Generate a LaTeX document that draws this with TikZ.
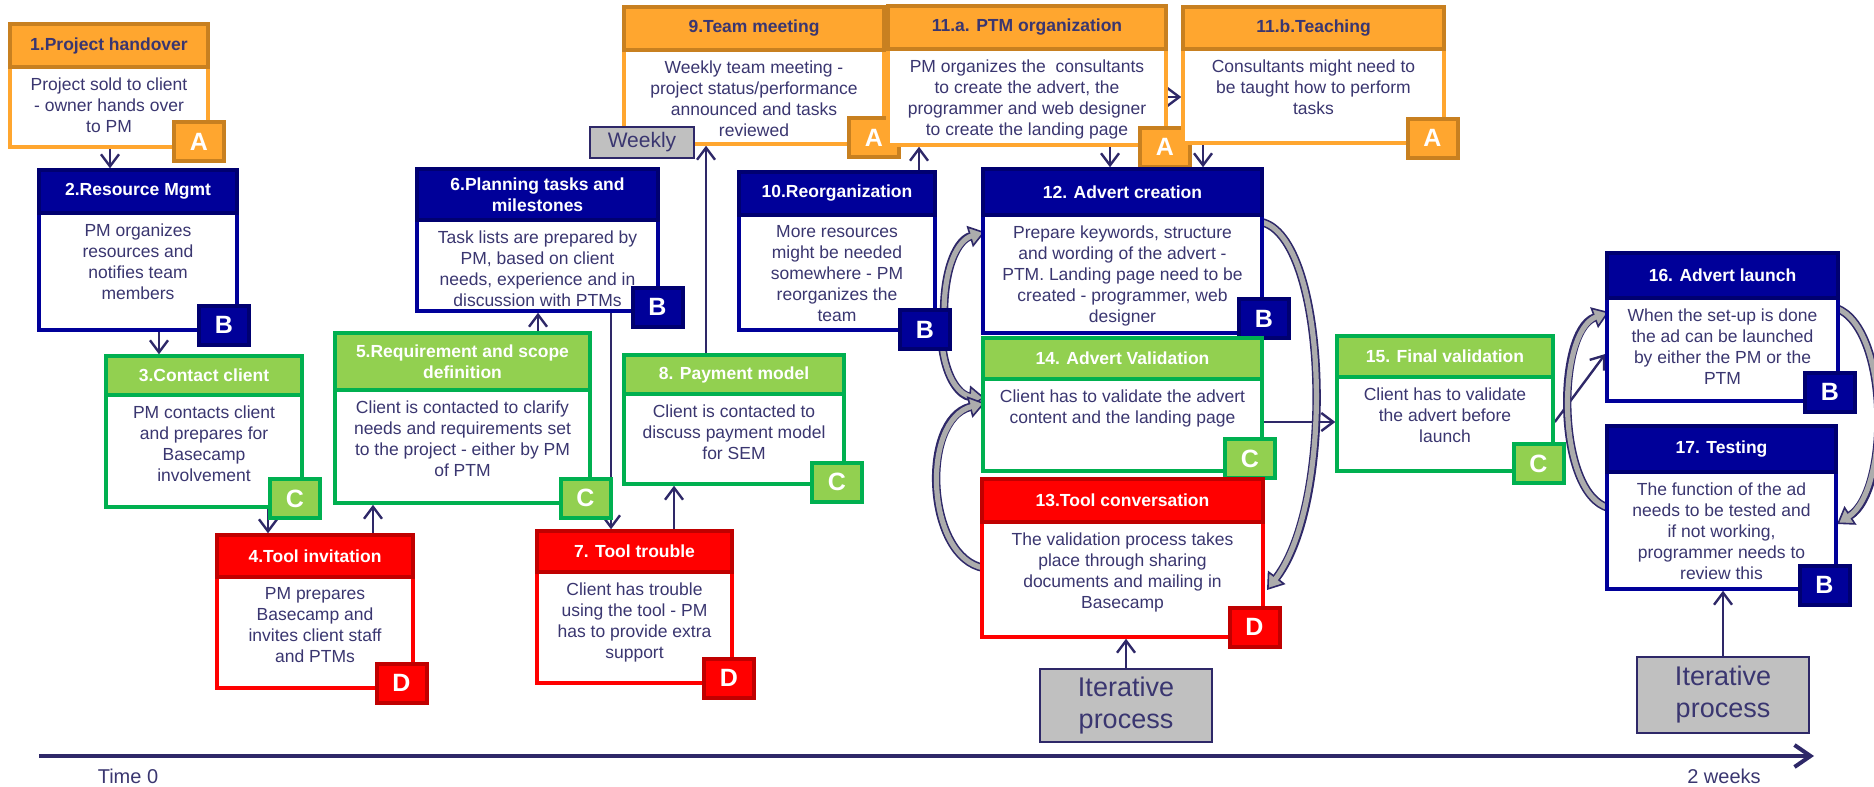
\documentclass[tikz,border=0pt]{standalone}
\usepackage{fontspec}
\setmainfont{Liberation Sans}
\usetikzlibrary{arrows.meta,calc,fit}
\pgfdeclarelayer{wires}
\pgfsetlayers{wires,main}

% palette
\definecolor{orfill}{RGB}{255,166,47}
\definecolor{ordark}{RGB}{200,128,32}
\definecolor{blfill}{RGB}{0,0,153}
\definecolor{bldark}{RGB}{0,0,112}
\definecolor{grfill}{RGB}{146,208,80}
\definecolor{grdark}{RGB}{0,176,80}
\definecolor{rdfill}{RGB}{255,0,0}
\definecolor{rddark}{RGB}{192,0,0}
\definecolor{ink}{RGB}{58,54,112}
\definecolor{wire}{RGB}{46,40,104}
\definecolor{boxgray}{RGB}{192,192,192}
\definecolor{bandgray}{RGB}{172,172,172}

\tikzset{
  bodytext/.style={align=center, inner sep=0pt, text=ink,
    font=\fontsize{8.75}{10.5}\selectfont},
  titletext/.style={align=center, inner sep=0pt,
    font=\fontsize{8.75}{10.5}\selectfont\bfseries},
  badgebase/.style={minimum width=25pt, minimum height=19.5pt, inner sep=0pt,
    line width=2pt, text=white, font=\fontsize{12.5}{14}\selectfont\bfseries},
  % orange group (A)
  orbody/.style={draw=orfill, fill=white, line width=1.75pt},
  orhead/.style={draw=ordark, fill=orfill, line width=2pt},
  ortitle/.style={titletext, text=ink},
  orbadge/.style={badgebase, draw=ordark, fill=orfill},
  % blue group (B)
  blbody/.style={draw=blfill, fill=white, line width=1.75pt},
  blhead/.style={draw=bldark, fill=blfill, line width=2pt},
  bltitle/.style={titletext, text=white},
  blbadge/.style={badgebase, draw=bldark, fill=blfill},
  % green group (C)
  grbody/.style={draw=grdark, fill=white, line width=1.75pt},
  grhead/.style={draw=grdark, fill=grfill, line width=2pt},
  grtitle/.style={titletext, text=white},
  grbadge/.style={badgebase, draw=grdark, fill=grfill},
  % red group (D)
  rdbody/.style={draw=rdfill, fill=white, line width=1.75pt},
  rdhead/.style={draw=rddark, fill=rdfill, line width=2pt},
  rdtitle/.style={titletext, text=white},
  rdbadge/.style={badgebase, draw=rddark, fill=rdfill},
  % notes and connectors
  graynote/.style={draw=wire, fill=boxgray, line width=1.4pt, inner sep=0pt,
    align=center, text=ink},
  conn/.style={draw=wire, line width=1.2pt, -{Straight Barb[length=6pt,width=9pt]}},
  timeline/.style={draw=wire, line width=2pt, -{Straight Barb[length=8pt,width=11pt]}},
  bandedge/.style={draw=wire, line width=4.2pt,
    -{Triangle[length=8pt,width=11pt,fill=bandgray,line width=0.8pt]}},
  bandcore/.style={draw=bandgray, line width=2.6pt, shorten >=6.8pt},
  axislabel/.style={inner sep=0pt, text=ink, font=\fontsize{10}{11}\selectfont},
}

% a stage box: name, group, left, top, right, header bottom, bottom, title, text
\newcommand\stage[9]{%
  \node[fit={(#3,#4)(#5,#7)}, inner sep=0pt, #2body] (#1) {};
  \node[fit={(#3,#4)(#5,#6)}, inner sep=0pt, #2head] (#1h) {};
  \node[#2title] (#1t) at (#1h.center) {#8};
  \node[bodytext, anchor=north] (#1b) at ($(#1h.south)+(0,8)$) {#9};
}
% a group letter: name, group, x, y, letter
\newcommand\badge[5]{\node[#2badge] (#1) at (#3,#4) {#5};}
% a curved grey block arrow
\newcommand\loopband[1]{%
  \draw[bandedge] #1;
  \draw[bandcore] #1;
}

\begin{document}
\begin{tikzpicture}[x=0.5pt,y=-0.5pt]
\useasboundingbox (0,0) rectangle (1874,787);

% ---- stages ----
\stage{s1}{or}{10}{24}{208}{67}{147}{1.Project handover}
  {Project sold to client\\- owner hands over\\to PM}
\badge{k1}{or}{199}{141.5}{A}

\stage{s2}{bl}{39}{170}{237}{213}{330}{2.Resource Mgmt}
  {PM organizes\\resources and\\notifies team\\members}
\badge{k2}{bl}{224}{325}{B}

\stage{s3}{gr}{106}{356}{302}{395}{507}{3.Contact client}
  {PM contacts client\\and prepares for\\Basecamp\\involvement}
\badge{k3}{gr}{295}{498.5}{C}

\stage{s4}{rd}{217}{535}{413}{577}{688}{4.Tool invitation}
  {PM prepares\\Basecamp and\\invites client staff\\and PTMs}
\badge{k4}{rd}{401.5}{683}{D}

\stage{s5}{gr}{335}{333}{590}{390}{503}{5.Requirement and scope\\definition}
  {Client is contacted to clarify\\needs and requirements set\\to the project - either by PM\\of PTM}
\badge{k5}{gr}{585.5}{498}{C}

\stage{s6}{bl}{417}{169}{658}{220}{311}{6.Planning tasks and\\milestones}
  {Task lists are prepared by\\PM, based on client\\needs, experience and in\\discussion with PTMs}
\badge{k6}{bl}{657.5}{307}{B}

\stage{s7}{rd}{537}{531}{732}{572}{683}{7. Tool trouble}
  {Client has trouble\\using the tool - PM\\has to provide extra\\support}
\badge{k7}{rd}{729}{678}{D}

\stage{s8}{gr}{624}{355}{844}{394}{484}{8. Payment model}
  {Client is contacted to\\discuss payment model\\for SEM}
\badge{k8}{gr}{837}{482}{C}

\stage{s9}{or}{624}{7}{884}{50}{144}{9.Team meeting}
  {Weekly team meeting -\\project status/performance\\announced and tasks\\reviewed}
\badge{k9}{or}{874}{137.5}{A}

\stage{s10}{bl}{739}{172}{935}{215}{330}{10.Reorganization}
  {More resources\\might be needed\\somewhere - PM\\reorganizes the\\team}
\badge{k10}{bl}{925}{329.5}{B}

\stage{s11a}{or}{888}{6}{1166}{49}{145}{11.a. PTM organization}
  {PM organizes the\ \ consultants\\to create the advert, the\\programmer and web designer\\to create the landing page}
\badge{k11a}{or}{1165}{147}{A}

\stage{s11b}{or}{1183}{7}{1444}{49}{143}{11.b.Teaching}
  {Consultants might need to\\be taught how to perform\\tasks}
\badge{k11b}{or}{1432.5}{138}{A}

\stage{s12}{bl}{983}{169}{1262}{215}{333}{12. Advert creation}
  {Prepare keywords, structure\\and wording of the advert -\\PTM. Landing page need to be\\created - programmer, web\\designer}
\badge{k12}{bl}{1264}{318.5}{B}

\stage{s14}{gr}{983}{338}{1262}{379}{471}{14. Advert Validation}
  {Client has to validate the advert\\content and the landing page}
\badge{k14}{gr}{1250}{458.5}{C}

\stage{s13}{rd}{982}{479}{1263}{522}{637}{13.Tool conversation}
  {The validation process takes\\place through sharing\\documents and mailing in\\Basecamp}
\badge{k13}{rd}{1254.5}{627}{D}

\stage{s15}{gr}{1337}{336}{1553}{377}{471}{15. Final validation}
  {Client has to validate\\the advert before\\launch}
\badge{k15}{gr}{1538.5}{463.5}{C}

\stage{s16}{bl}{1607}{253}{1838}{298}{401}{16. Advert launch}
  {When the set-up is done\\the ad can be launched\\by either the PM or the\\PTM}
\badge{k16}{bl}{1830}{392}{B}

\stage{s17}{bl}{1607}{426}{1836}{472}{589}{17. Testing}
  {The function of the ad\\needs to be tested and\\if not working,\\programmer needs to\\review this}
\badge{k17}{bl}{1824.5}{585}{B}

% ---- notes ----
\node[graynote, minimum width=52pt, minimum height=15.5pt,
  font=\fontsize{10.5}{12}\selectfont] (weekly) at (642,142.5) {Weekly};
\node[graynote, minimum width=86pt, minimum height=36.5pt,
  font=\fontsize{13.5}{16}\selectfont] (iter1) at (1126,705.5) {Iterative\\process};
\node[graynote, minimum width=86pt, minimum height=38pt,
  font=\fontsize{13.5}{16}\selectfont] (iter2) at (1723,695) {Iterative\\process};

% ---- time line ----
\coordinate (t0) at (39,756);
\coordinate (t1) at (1814,756);
\node[axislabel] (l0) at (128,776) {Time 0};
\node[axislabel] (l1) at (1724,776) {2 weeks};

% ---- connectors, drawn behind the boxes ----
\begin{pgfonlayer}{wires}
  \coordinate (x12) at (110,0);
  \coordinate (x23) at (159,0);
  \coordinate (x34) at (268,0);
  \coordinate (x45) at (373,0);
  \coordinate (x56) at (538,0);
  \coordinate (x67) at (611,0);
  \coordinate (x78) at (674,0);
  \coordinate (x89) at (706,0);
  \coordinate (x10a) at (919,0);
  \coordinate (xa12) at (1110,0);
  \coordinate (xb12) at (1203,0);
  \coordinate (y14) at (0,422);
  \coordinate (y16) at (0,354);
  \draw[conn] (x12 |- s1.south) -- (x12 |- s2.north);
  \draw[conn] (x23 |- s2.south) -- (x23 |- s3.north);
  \draw[conn] (x34 |- s3.south) -- (x34 |- s4.north);
  \draw[conn] (x45 |- s4.north) -- (x45 |- s5.south);
  \draw[conn] (x56 |- s5.north) -- (x56 |- s6.south);
  \draw[conn] (x67 |- s6.south) -- (x67 |- s7.north);
  \draw[conn] (x78 |- s7.north) -- (x78 |- s8.south);
  \draw[conn] (x89 |- s8.north) -- (x89 |- s9.south);
  \draw[conn] (x10a |- s10.north) -- (x10a |- s11a.south);
  \coordinate (y11) at (0,97);
  \draw[conn] (y11 -| s11a.east) -- (y11 -| s11b.west);
  \draw[conn] (xa12 |- s11a.south) -- (xa12 |- s12.north);
  \draw[conn] (xb12 |- s11b.south) -- (xb12 |- s12.north);
  \draw[conn] (y14 -| s14.east) -- (y14 -| s15.west);
  \draw[conn] (y14 -| s15.east) -- (y16 -| s16.west);
  \draw[conn] (iter1.north) -- (iter1.north |- s13.south);
  \draw[conn] (iter2.north) -- (iter2.north |- s17.south);
  \draw[timeline] (t0) -- (t1);

  % curved loops between the working steps
  \coordinate (pa0) at (944,314);
  \coordinate (pa1) at (985,232);
  \coordinate (pb0) at (942,344);
  \coordinate (pb1) at (985,398);
  \coordinate (pc0) at (984,568);
  \coordinate (pc1) at (985,403);
  \coordinate (pd0) at (1261,222);
  \coordinate (pd1) at (1267,590);
  \coordinate (pe0) at (1609,508);
  \coordinate (pe1) at (1609,312);
  \coordinate (pf0) at (1836,308);
  \coordinate (pf1) at (1837,524);
  \loopband{(pa0) .. controls (944,266) and (958,240) .. (pa1)}
  \loopband{(pb0) .. controls (946,382) and (962,396) .. (pb1)}
  \loopband{(pc0) .. controls (926,558) and (920,420) .. (pc1)}
  \loopband{(pd0) .. controls (1328,236) and (1336,500) .. (pd1)}
  \loopband{(pe0) .. controls (1556,494) and (1556,332) .. (pe1)}
  \loopband{(pf0) .. controls (1890,328) and (1890,490) .. (pf1)}
\end{pgfonlayer}
\end{tikzpicture}
\end{document}
